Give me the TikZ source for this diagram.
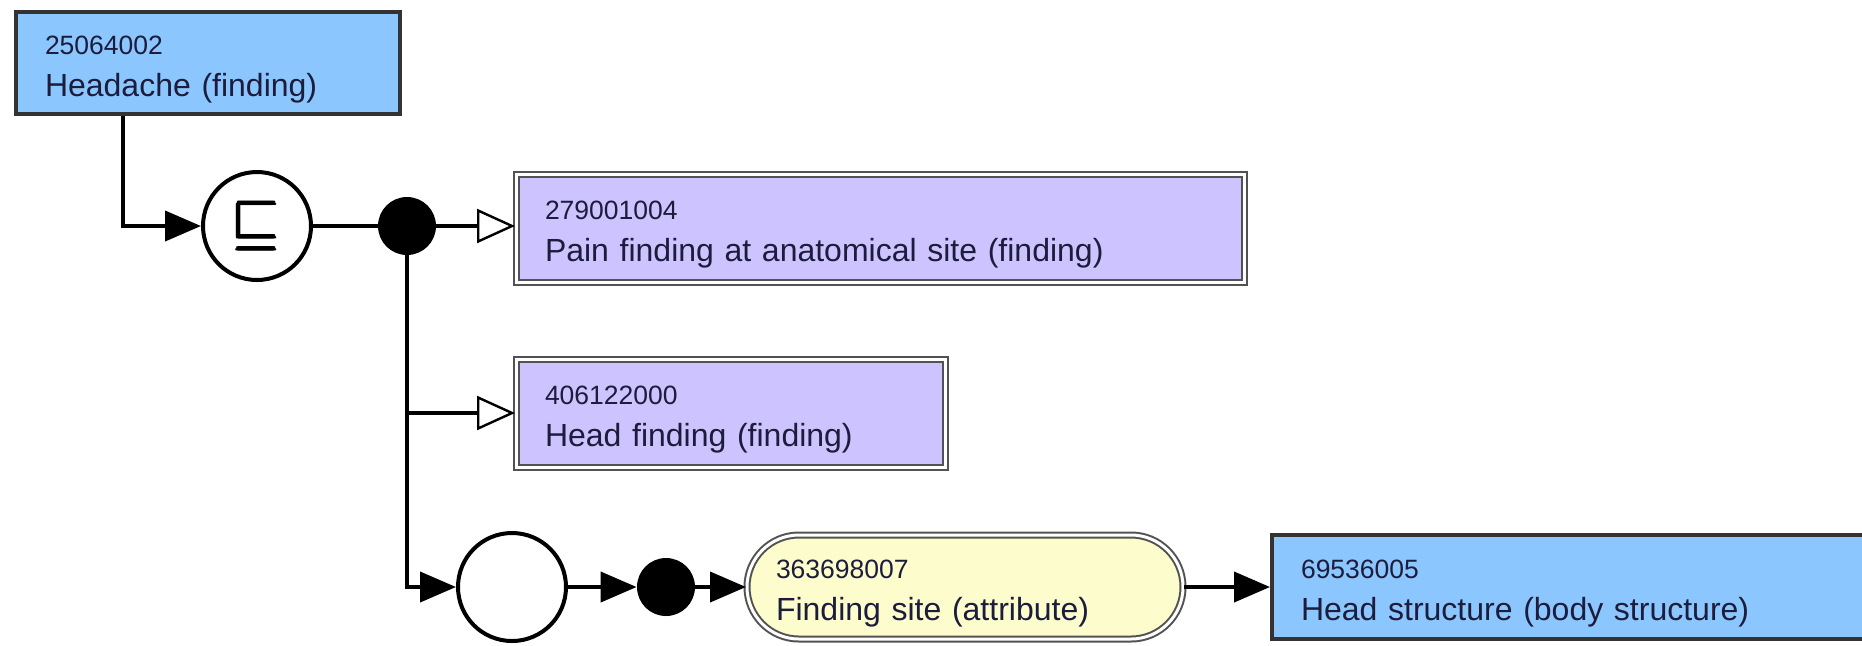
\RequirePackage{fix-cm}
\documentclass[tikz,border=0pt]{standalone}
\usepackage{amsmath}
\usepackage{amssymb}
\usepackage{fontspec}
\setmainfont{Liberation Sans}
\usetikzlibrary{arrows.meta}
\usetikzlibrary{shapes}
\definecolor{conceptblue}{RGB}{140,198,255}
\definecolor{conceptpurple}{RGB}{205,196,255}
\definecolor{attryellow}{RGB}{252,252,204}
\definecolor{boxline}{RGB}{51,51,51}
\definecolor{inktext}{RGB}{28,28,60}
\newcommand{\idfont}{\fontsize{13.25}{21}\selectfont\rule{0pt}{16pt}}

\begin{document}
\begin{tikzpicture}[x=0.50pt,y=0.50pt,yscale=-1,xscale=1,
  defined/.style={draw=boxline, line width=2pt, fill=conceptblue, anchor=west, inner xsep=14.5pt, inner ysep=0pt, align=left, minimum height=51pt, text=inktext, font=\fontsize{16}{21}\selectfont},
  primitive/.style={defined, draw=boxline!85, fill=conceptpurple, line width=1pt, double=white, double distance=1.5pt, minimum height=54pt},
  attribute/.style={primitive, fill=attryellow, rounded corners=26pt, minimum height=52pt},
  conj/.style={circle, draw, line width=2pt, fill=white, minimum size=54pt, inner sep=0pt},
  dot/.style={circle, fill=black, minimum size=29pt, inner sep=0pt},
  rel/.style={line width=2pt, -{Triangle[length=18pt, width=15pt]}},
  isa/.style={line width=2pt, -{Triangle[open, length=19pt, width=17pt, line width=1.2pt]}}]
\useasboundingbox (0,0) rectangle (1862,645);
\clip (0,0) rectangle (1862,645);

% Text Node
\node[defined, text width=163pt] (headache) at (14,63) {{\idfont 25064002}\\Headache (finding)};
% Text Node
\node[primitive, text width=335pt] (painsite) at (515,228) {{\idfont 279001004}\\Pain finding at anatomical site (finding)};
% Text Node
\node[primitive, text width=185.5pt] (headfinding) at (515,413) {{\idfont 406122000}\\Head finding (finding)};
% Text Node
\node[attribute, text width=189pt] (findingsite) at (746,587) {{\idfont 363698007}\\Finding site (attribute)};
% Text Node
\node[defined, text width=286pt, minimum height=52pt] (headstructure) at (1270,587) {{\idfont 69536005}\\Head structure (body structure)};

%Shape: Circle
\node[conj, font=\fontsize{31}{36}\selectfont] (subsumes) at (257,226) {$\pmb{\sqsubseteq}$};
%Shape: Circle
\node[dot] (group) at (407,226) {};
%Shape: Circle
\node[conj] (rolegroup) at (512,587) {};
%Shape: Circle
\node[dot] (attrdot) at (666,587) {};

% Connection
\draw[rel] ([xshift=54.5pt]headache.south west) |- (subsumes);
% Connection
\draw[line width=2pt] (subsumes) -- (group);
% Connection
\draw[isa] (group) -- (group -| painsite.west);
% Connection
\draw[isa] (group |- headfinding) -- (headfinding.west);
% Connection
\draw[rel] (group) |- (rolegroup);
% Connection
\draw[rel] (rolegroup) -- (attrdot);
% Connection
\draw[rel] (attrdot) -- (findingsite);
% Connection
\draw[rel] (findingsite) -- (headstructure);

\end{tikzpicture}
\end{document}
